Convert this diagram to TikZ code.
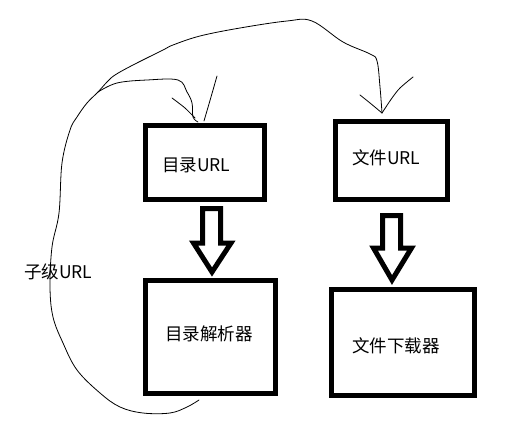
\documentclass[tikz,border=0pt]{standalone}
\usepackage{fontspec}
\newfontfamily\cjk{Noto Sans CJK SC}
\begin{document}
\begin{tikzpicture}[x=1pt,y=-1pt,
  boxst/.style={draw=black,line width=5pt,rectangle,inner sep=0pt,minimum width=#1},
  lbl/.style={font=\cjk\fontsize{17.5pt}{20pt}\selectfont,anchor=west,inner sep=0pt,text=black},
  blockarrow/.style={draw=black,line width=5pt,miter limit=10,line join=miter},
  hand/.style={draw=black,line width=0.8pt,line cap=round,line join=round}]
\useasboundingbox (0,0) rectangle (518,441);
\fill[white] (0,0) rectangle (518,441);
% boxes
\draw[boxst=0pt] (145.5,125.5) rectangle (264.5,199.5);
\draw[boxst=0pt] (145.5,280.5) rectangle (275.5,393.5);
\draw[boxst=0pt] (335.5,121.5) rectangle (447.5,199.5);
\draw[boxst=0pt] (331.5,289.5) rectangle (474.5,395.5);
\coordinate (b1) at (205,162);
\coordinate (b2) at (210,337);
\coordinate (b3) at (391,160);
\coordinate (b4) at (403,342);
% labels
\node[lbl] (t1) at (162,165) {目录URL};
\node[lbl] (t2) at (165,334) {目录解析器};
\node[lbl] (t3) at (352,158) {文件URL};
\node[lbl] (t4) at (352,346) {文件下载器};
% block arrows
\draw[blockarrow] (202.5,208.5) -- (220.5,208.5) -- (220.5,243) -- (231,243) -- (212,272) -- (193.5,243) -- (202.5,243) -- cycle;
\draw[blockarrow] (382.5,215.5) -- (400.5,215.5) -- (400.5,248) -- (411.5,248) -- (392,280) -- (373.5,248) -- (382.5,248) -- cycle;
% hand-drawn loop
\coordinate (start) at (199,400);
\coordinate (split) at (98,92);
\coordinate (end3) at (382,113);
\coordinate (end1) at (198,122);
\draw[hand] plot[smooth,tension=0.6] coordinates {(start) (187,407) (170,413) (143,413) (120,407) (100,393) (77,370) (63,343) (53,317) (50,287) (52,247) (59,213) (62,163) (70,130) (77,117) (87,103) (split) (107,82) (115,75) (133,65) (163,50) (173,45) (200,36) (240,28) (287,21) (312,21) (343,42) (370,54) (377,61) (380,87) (end3)};
\draw[hand] plot[smooth,tension=0.6] coordinates {(split) (117,83) (147,80) (178,80) (187,92) (192,103) (193,117) (end1)};
% hand arrowheads
\draw[hand] plot[smooth,tension=0.5] coordinates {(360,95) (370,103) (end3)};
\draw[hand] plot[smooth,tension=0.5] coordinates {(413,77) (400,88) (392,98) (end3)};
\draw[hand] plot[smooth,tension=0.5] coordinates {(172,98) (185,108) (195,118)};
\draw[hand] plot[smooth,tension=0.5] coordinates {(217,76) (211,97) (204,121)};
% side label
\node[lbl] (t5) at (24,272) {子级URL};
\end{tikzpicture}
\end{document}
